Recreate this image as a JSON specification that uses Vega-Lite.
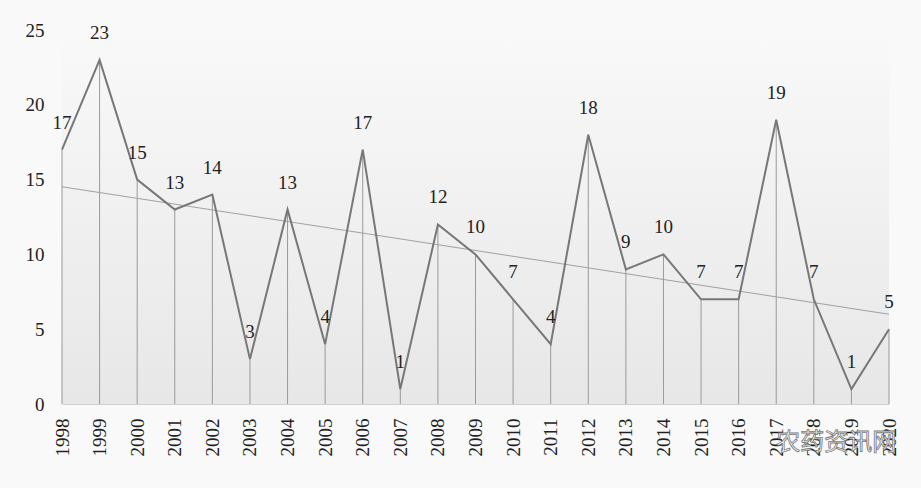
{
  "$schema": "https://vega.github.io/schema/vega-lite/v6.json",
  "autosize": "none",
  "width": 827,
  "height": 374,
  "padding": {"left": 62, "top": 30, "right": 32, "bottom": 84},
  "background": "#f9f9f9",
  "config": {
    "view": {"stroke": null},
    "font": "Liberation Serif",
    "text": {"font": "Liberation Serif"}
  },
  "datasets": {
    "counts": [
      {"year": 1998, "count": 17}, {"year": 1999, "count": 23}, {"year": 2000, "count": 15},
      {"year": 2001, "count": 13}, {"year": 2002, "count": 14}, {"year": 2003, "count": 3},
      {"year": 2004, "count": 13}, {"year": 2005, "count": 4}, {"year": 2006, "count": 17},
      {"year": 2007, "count": 1}, {"year": 2008, "count": 12}, {"year": 2009, "count": 10},
      {"year": 2010, "count": 7}, {"year": 2011, "count": 4}, {"year": 2012, "count": 18},
      {"year": 2013, "count": 9}, {"year": 2014, "count": 10}, {"year": 2015, "count": 7},
      {"year": 2016, "count": 7}, {"year": 2017, "count": 19}, {"year": 2018, "count": 7},
      {"year": 2019, "count": 1}, {"year": 2020, "count": 5}
    ],
    "mark": [{"label": "农药资讯网", "year": 2018.6, "count": -2.6}]
  },
  "data": {"name": "counts"},
  "encoding": {
    "x": {
      "field": "year", "type": "quantitative",
      "scale": {"domain": [1998, 2020], "nice": false, "zero": false},
      "axis": {
        "values": [1998,1999,2000,2001,2002,2003,2004,2005,2006,2007,2008,2009,2010,2011,2012,2013,2014,2015,2016,2017,2018,2019,2020],
        "format": "d", "labelAngle": -90, "labelAlign": "right", "labelBaseline": "middle",
        "labelPadding": 14, "labelFontSize": 19, "labelColor": "#222", "labelFont": "Liberation Serif",
        "ticks": false, "domain": true, "domainColor": "#cfcfcf", "grid": false, "title": null,
        "labelOverlap": false, "labelFlush": false
      }
    },
    "y": {
      "field": "count", "type": "quantitative",
      "scale": {"domain": [0, 25], "nice": false},
      "axis": {
        "values": [0, 5, 10, 15, 20, 25], "ticks": false, "domain": false, "grid": false,
        "labelPadding": 18, "labelFontSize": 19, "labelColor": "#222", "labelFont": "Liberation Serif",
        "title": null, "labelFlush": false
      }
    }
  },
  "layer": [
    {
      "mark": {
        "type": "rect",
        "fill": {
          "gradient": "linear", "x1": 0, "y1": 0, "x2": 0, "y2": 1,
          "stops": [
            {"offset": 0, "color": "#f9f9f9"},
            {"offset": 1, "color": "#e7e7e7"}
          ]
        }
      },
      "encoding": {
        "x": {"datum": 1998, "type": "quantitative"},
        "x2": {"datum": 2020},
        "y": {"datum": 25, "type": "quantitative"},
        "y2": {"datum": 0}
      }
    },
    {
      "mark": {"type": "rule", "color": "#9a9a9a", "strokeWidth": 1},
      "encoding": {"y2": {"datum": 0}}
    },
    {
      "transform": [{"regression": "count", "on": "year", "method": "linear"}],
      "mark": {"type": "line", "color": "#a0a0a0", "strokeWidth": 1},
      "encoding": {}
    },
    {
      "mark": {"type": "line", "color": "#777777", "strokeWidth": 2},
      "encoding": {}
    },
    {
      "mark": {"type": "text", "fontSize": 19, "baseline": "middle", "dy": -27, "color": "#222", "font": "Liberation Serif"},
      "encoding": {"text": {"field": "count", "type": "quantitative"}}
    },
    {
      "data": {"name": "mark"},
      "mark": {"type": "text", "font": "Noto Sans CJK SC", "fontSize": 24, "fill": "#f4f4f4", "stroke": "#7a7a7a", "strokeWidth": 0.8, "baseline": "middle", "align": "center", "clip": false},
      "encoding": {
        "text": {"field": "label", "type": "nominal"}
      }
    }
  ]
}
